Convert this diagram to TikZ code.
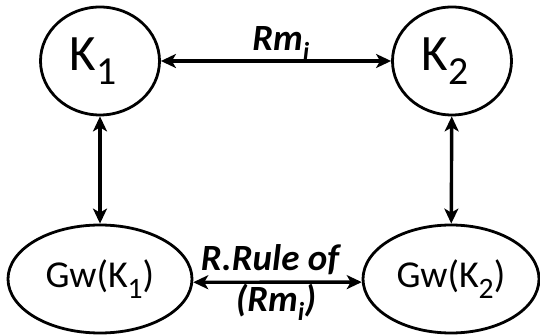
\documentclass[tikz,border=0pt]{standalone}
\usepackage{fontspec}
\usepackage{graphicx}
\setmainfont{Carlito}
\usetikzlibrary{shapes.geometric,arrows.meta}
% lowered, slightly reduced subscript in the running font
\newcommand\lowsub[1]{\raisebox{-0.28em}{\scalebox{0.78}{#1}}}
\begin{document}
\begin{tikzpicture}[x=1pt,y=-1pt,
  state/.style={draw,line width=2.8pt,ellipse,inner sep=0pt},
  link/.style={line width=3.4pt,{Stealth[length=15pt,width=14pt,inset=4pt]}-{Stealth[length=15pt,width=14pt,inset=4pt]}},
  lbl/.style={font=\fontsize{37}{41}\selectfont\bfseries\itshape,anchor=base,inner sep=0pt}]
\useasboundingbox (0,0) rectangle (540,336);
% upper pair of circles (labels sit a little left of centre)
\node[state,minimum width=119pt,minimum height=108pt,font=\fontsize{51}{54}\selectfont] (k1) at (100,61) {K\lowsub{1}\hspace*{14pt}};
\node[state,minimum width=119pt,minimum height=108pt,font=\fontsize{51}{54}\selectfont] (k2) at (452,61) {K\lowsub{2}\hspace*{14pt}};
% lower pair of ellipses
\node[state,minimum width=184pt,minimum height=108pt,font=\fontsize{38}{42}\selectfont] (g1) at (100,279) {Gw(K\lowsub{1})};
\node[state,minimum width=176pt,minimum height=108pt,font=\fontsize{38}{42}\selectfont] (g2) at (451,279) {Gw(K\lowsub{2})};
% connectors
\draw[link] (k1) -- (k2);
\draw[link] (k1) -- (g1);
\draw[link] (k2) -- (g2);
\draw[link] (g1.-2) -- (g2.182);
% labels
\node[lbl] (top) at (281,51) {Rm\textsubscript{i}};
\node[lbl] (rule) at (270,270) {R.Rule of};
\node[lbl] (rmi) at (276,311) {(Rm\textsubscript{i})};
\end{tikzpicture}
\end{document}
